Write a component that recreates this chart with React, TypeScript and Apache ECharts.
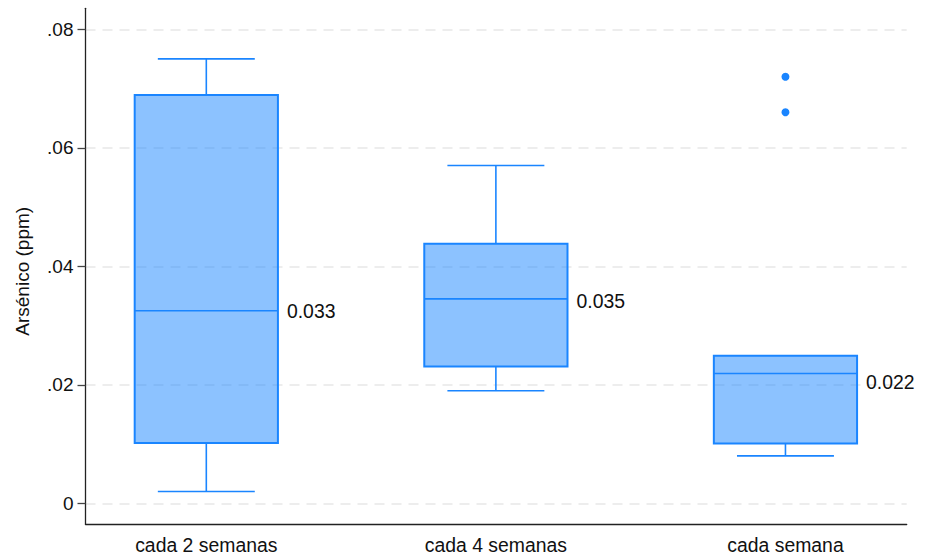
import React, { useEffect, useRef } from "react";
import * as echarts from "echarts";

const categories = ["cada 2 semanas", "cada 4 semanas", "cada semana"];
const positions = [1, 2, 3];
const lowerWhisker = [0.002, 0.019, 0.008];
const q1 = [0.0102, 0.0231, 0.0101];
const median = [0.0325, 0.0345, 0.0219];
const q3 = [0.0689, 0.0438, 0.0249];
const upperWhisker = [0.075, 0.057, 0.0249];
const medianLabels = ["0.033", "0.035", "0.022"];
const labelValues = [0.0325, 0.0341, 0.0205];
const outliers: [number, number][] = [
  [3, 0.072],
  [3, 0.066],
];
const yTicks = [0, 0.02, 0.04, 0.06, 0.08];
const yTickLabels = ["0", ".02", ".04", ".06", ".08"];

const FONT = "'Liberation Sans', Arial, Helvetica, sans-serif";
const FS = 19.4;
const STROKE = "#1a85ff";
const FILL = "rgba(26,133,255,0.5)";

export default function App() {
  const ref = useRef<HTMLDivElement>(null);
  useEffect(() => {
    if (!ref.current) return;
    const chart = echarts.init(ref.current, undefined, { renderer: "svg" });
    const boxData = positions.map((p, i) => [
      p,
      lowerWhisker[i],
      q1[i],
      median[i],
      q3[i],
      upperWhisker[i],
      labelValues[i],
    ]);
    chart.setOption({
      animation: false,
      grid: { left: 85.5, right: 20.3, top: 8.3, bottom: 35.7, containLabel: false },
      xAxis: {
        type: "value",
        min: 0.5828,
        max: 3.4187,
        axisLine: { show: true, onZero: false, lineStyle: { color: "#222", width: 1.3 } },
        axisTick: { show: false, customValues: positions },
        splitLine: { show: false },
        axisLabel: {
          customValues: positions,
          margin: 11,
          fontSize: FS,
          fontFamily: FONT,
          color: "#111",
          formatter: (v: number) => {
            const i = positions.indexOf(Math.round(v));
            return i >= 0 ? categories[i] : "";
          },
        },
      },
      yAxis: {
        type: "value",
        min: -0.00354,
        max: 0.08354,
        name: "Arsénico (ppm)",
        nameLocation: "middle",
        nameGap: 54,
        nameTextStyle: {
          fontSize: 19,
          fontFamily: FONT,
          color: "#111",
          padding: [0, 10, 0, 0],
        },
        axisLine: { show: true, onZero: false, lineStyle: { color: "#222", width: 1.3 } },
        axisTick: {
          show: true,
          customValues: yTicks,
          length: 8,
          lineStyle: { color: "#444", width: 1.3 },
        },
        axisLabel: {
          customValues: yTicks,
          margin: 12,
          fontSize: 19,
          fontFamily: FONT,
          color: "#111",
          formatter: (v: number) => {
            const i = yTicks.findIndex((t) => Math.abs(t - v) < 1e-9);
            return i >= 0 ? yTickLabels[i] : "";
          },
        },
        splitLine: {
          show: true,
          lineStyle: { color: "#e8e8e8", type: [10, 7], width: 1.5 },
        },
      },
      series: [
        {
          type: "custom",
          data: boxData,
          encode: { x: 0, y: [1, 2, 3, 4, 5] },
          renderItem: (params: any, api: any) => {
            const x = api.value(0);
            const lo = api.coord([x, api.value(1)]);
            const b1 = api.coord([x, api.value(2)]);
            const md = api.coord([x, api.value(3)]);
            const b3 = api.coord([x, api.value(4)]);
            const hi = api.coord([x, api.value(5)]);
            const lb = api.coord([x, api.value(6)]);
            const unit = api.size([1, 0])[0];
            const hw = unit * 0.2473;
            const cw = unit * 0.1674;
            const cx = lo[0];
            const lineStyle = { stroke: STROKE, lineWidth: 1.6, fill: null };
            const children: any[] = [];
            if (hi[1] < b3[1] - 0.5) {
              children.push({
                type: "line",
                shape: { x1: cx, y1: hi[1], x2: cx, y2: b3[1] },
                style: lineStyle,
              });
              children.push({
                type: "line",
                shape: { x1: cx - cw, y1: hi[1], x2: cx + cw, y2: hi[1] },
                style: lineStyle,
              });
            }
            children.push({
              type: "line",
              shape: { x1: cx, y1: b1[1], x2: cx, y2: lo[1] },
              style: lineStyle,
            });
            children.push({
              type: "line",
              shape: { x1: cx - cw, y1: lo[1], x2: cx + cw, y2: lo[1] },
              style: lineStyle,
            });
            children.push({
              type: "rect",
              shape: { x: cx - hw, y: b3[1], width: 2 * hw, height: b1[1] - b3[1] },
              style: { fill: FILL, stroke: STROKE, lineWidth: 2 },
            });
            children.push({
              type: "line",
              shape: { x1: cx - hw, y1: md[1], x2: cx + hw, y2: md[1] },
              style: lineStyle,
            });
            children.push({
              type: "text",
              x: cx + hw + 9,
              y: lb[1],
              style: {
                text: medianLabels[params.dataIndex],
                fontSize: FS,
                fontFamily: FONT,
                fill: "#111",
                align: "left",
                verticalAlign: "middle",
              },
            });
            return { type: "group", children };
          },
        },
        {
          type: "scatter",
          data: outliers,
          symbol: "circle",
          symbolSize: 8,
          itemStyle: { color: STROKE, opacity: 1 },
        },
      ],
    });
    return () => chart.dispose();
  }, []);
  return (
    <div
      ref={ref}
      style={{ position: "absolute", left: 0, top: 0, width: 927, height: 560 }}
    />
  );
}
